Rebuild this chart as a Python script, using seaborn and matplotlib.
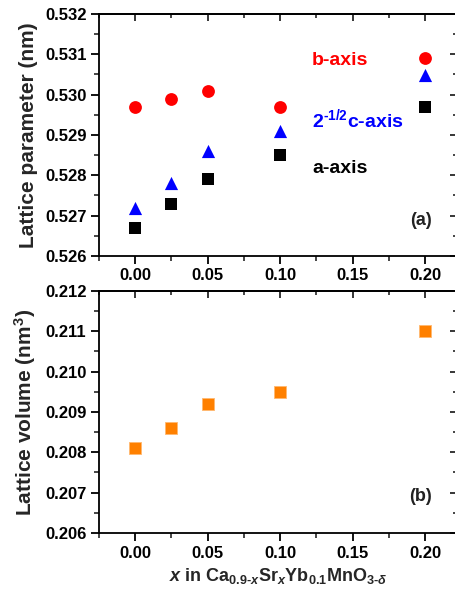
import matplotlib
matplotlib.use("Agg")
import matplotlib.pyplot as plt
import seaborn as sns
import pandas as pd
from matplotlib.ticker import MultipleLocator

x_vals = [0.00, 0.025, 0.05, 0.10, 0.20]
b_axis = [0.5297, 0.5299, 0.5301, 0.5297, 0.5309]
c_axis = [0.5272, 0.5278, 0.5286, 0.5291, 0.5305]
a_axis = [0.5267, 0.5273, 0.5279, 0.5285, 0.5297]
volume = [0.2081, 0.2086, 0.2092, 0.2095, 0.2110]
x_ticks = [0.00, 0.05, 0.10, 0.15, 0.20]
x_tick_labels = ["0.00", "0.05", "0.10", "0.15", "0.20"]

sns.set_theme(style="ticks")
plt.rcParams.update({
    "font.family": ["Liberation Sans", "DejaVu Sans"],
    "font.weight": "bold",
    "axes.labelweight": "bold",
    "mathtext.fontset": "custom",
    "mathtext.rm": "Liberation Sans:bold",
    "mathtext.it": "Liberation Sans:italic:bold",
    "mathtext.bf": "Liberation Sans:bold",
    "mathtext.sf": "Liberation Sans:bold",
    "axes.linewidth": 1.3,
    "axes.edgecolor": "black",
})

W, H = 455, 597
fig = plt.figure(figsize=(W / 100, H / 100), dpi=100)

def rect(l, r, t, b):
    return [l / W, 1 - b / H, (r - l) / W, (b - t) / H]

ax1 = fig.add_axes(rect(99, 457, 14, 256))
ax2 = fig.add_axes(rect(99, 457, 291, 533))

df = pd.DataFrame({"x": x_vals, "b": b_axis, "c": c_axis, "a": a_axis, "v": volume})

sns.scatterplot(data=df, x="x", y="b", ax=ax1, marker="o", s=85, color="#FF0000", linewidth=0, clip_on=False, zorder=3)
sns.scatterplot(data=df, x="x", y="c", ax=ax1, marker="^", s=90, color="#0000FF", linewidth=0, clip_on=False, zorder=3)
sns.scatterplot(data=df, x="x", y="a", ax=ax1, marker="s", s=64, color="#000000", linewidth=0, clip_on=False, zorder=3)
sns.scatterplot(data=df, x="x", y="v", ax=ax2, marker="s", s=72, color="#FF8000", edgecolor="#FFB870", linewidth=0.6, clip_on=False, zorder=3)

ax1.set_ylim(0.526, 0.532)
ax2.set_ylim(0.206, 0.212)

for ax in (ax1, ax2):
    ax.set_xlim(-0.025, 0.222)
    ax.set_xticks(x_ticks)
    ax.set_xticklabels(x_tick_labels)
    ax.xaxis.set_minor_locator(MultipleLocator(0.025))
    ax.yaxis.set_major_locator(MultipleLocator(0.001))
    ax.yaxis.set_minor_locator(MultipleLocator(0.0005))
    ax.yaxis.set_major_formatter(matplotlib.ticker.FormatStrFormatter("%.3f"))
    ax.tick_params(axis="both", which="major", direction="out", length=6, width=1.3,
                   labelsize=12, pad=3, colors="black")
    ax.tick_params(axis="both", which="minor", direction="out", length=3.5, width=1.2)
    for lbl in ax.get_xticklabels() + ax.get_yticklabels():
        lbl.set_fontweight("bold")
    ax.set_facecolor("white")
    for sp in ax.spines.values():
        sp.set_visible(True)
        sp.set_color("black")

for ax in (ax1, ax2):
    sec_x = ax.secondary_xaxis("top")
    sec_x.set_xticks(x_ticks)
    sec_x.xaxis.set_minor_locator(MultipleLocator(0.025))
    sec_x.tick_params(which="major", direction="in", length=5, width=1.3, labeltop=False)
    sec_x.tick_params(which="minor", direction="in", length=3, width=1.2)
    sec_x.spines["top"].set_linewidth(1.3)
    sec_y = ax.secondary_yaxis("right")
    sec_y.yaxis.set_major_locator(MultipleLocator(0.001))
    sec_y.yaxis.set_minor_locator(MultipleLocator(0.0005))
    sec_y.tick_params(which="major", direction="in", length=5, width=1.3, labelright=False)
    sec_y.tick_params(which="minor", direction="in", length=3, width=1.2)
    ax.tick_params(axis="x", which="both", top=False)
    ax.tick_params(axis="y", which="both", right=False)

ax1.set_xlabel("")
ax1.set_ylabel("Lattice parameter (nm)", fontsize=15, fontweight="bold", labelpad=5)
ax2.set_ylabel("Lattice volume (nm$^3$)", fontsize=15, fontweight="bold", labelpad=5)
ax2.set_xlabel(r"$x$ in Ca$_{0.9\text{-}x}$Sr$_{x}$Yb$_{0.1}$MnO$_{3\text{-}\delta}$",
               fontsize=13, fontweight="bold", labelpad=4)

ax1.text(0.122, 0.53085, "b-axis", color="#FF0000", fontsize=14, fontweight="bold", va="center", ha="left")
ax1.text(0.122, 0.52940, r"2$^{\text{-}1/2}$c-axis", color="#0000FF", fontsize=14, fontweight="bold", va="center", ha="left")
ax1.text(0.122, 0.52818, "a-axis", color="#000000", fontsize=14, fontweight="bold", va="center", ha="left")
ax1.text(0.197, 0.52688, "(a)", color="#222222", fontsize=13, fontweight="bold", va="center", ha="center")
ax2.text(0.197, 0.20690, "(b)", color="#222222", fontsize=13, fontweight="bold", va="center", ha="center")

fig.savefig("out.png", dpi=100, facecolor="white")
